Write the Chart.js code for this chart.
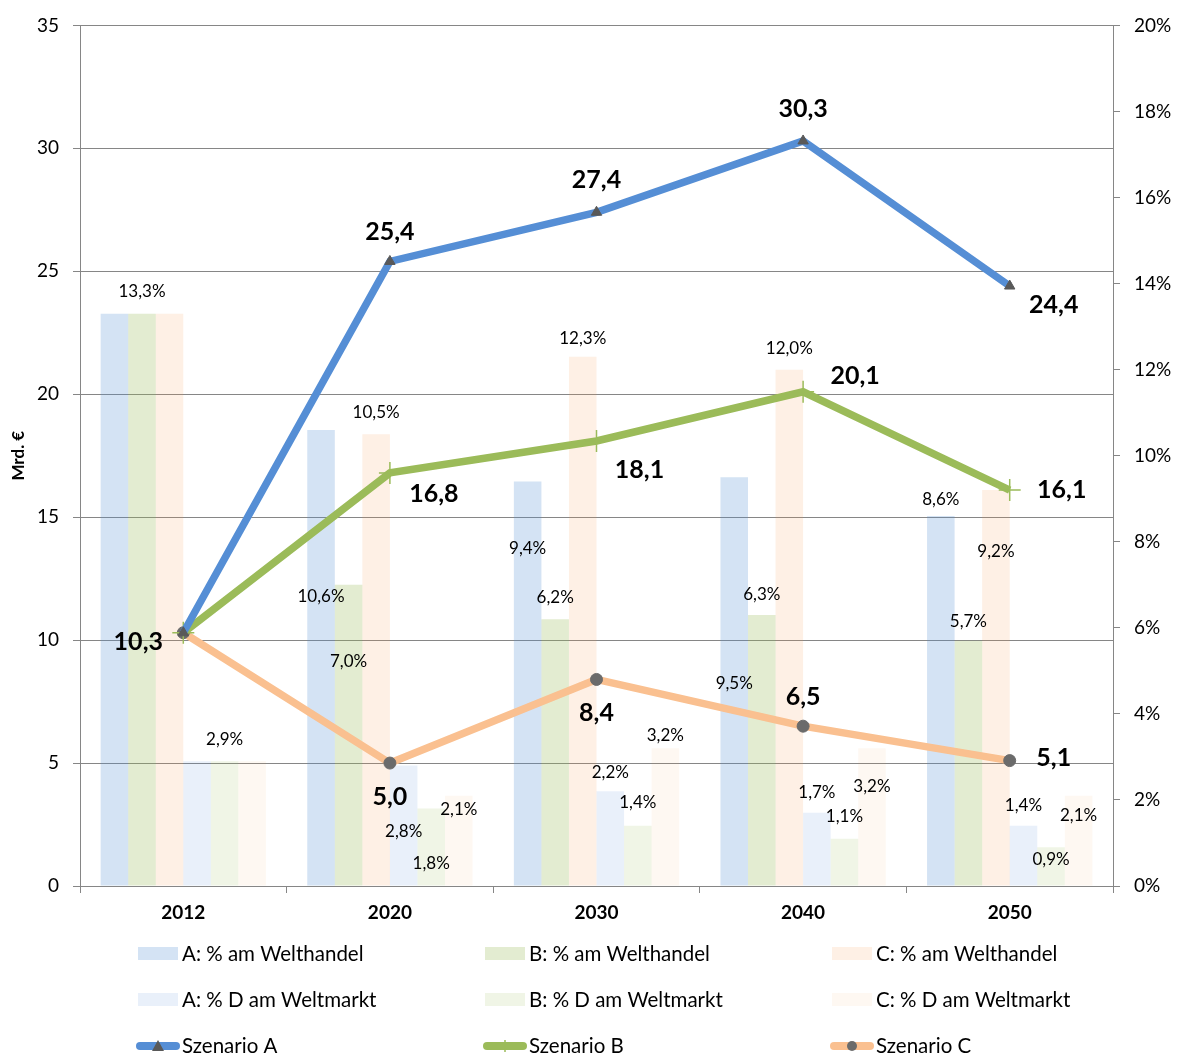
<!DOCTYPE html>
<html lang="de">
<head>
<meta charset="UTF-8">
<title>Szenarien Welthandel</title>
<script src="https://cdn.jsdelivr.net/npm/chart.js"></script>
<style>
  body { margin: 0; background: #fff; }
  #wrap { width: 1185px; height: 1054px; }
</style>
</head>
<body>
<div id="wrap"><canvas id="chart" width="1185" height="1054"></canvas></div>
<script>
// Daten
const years = ['2012', '2020', '2030', '2040', '2050'];

const aWelthandel = [13.3, 10.6, 9.4, 9.5, 8.6];
const bWelthandel = [13.3, 7.0, 6.2, 6.3, 5.7];
const cWelthandel = [13.3, 10.5, 12.3, 12.0, 9.2];
const aWeltmarkt = [2.9, 2.8, 2.2, 1.7, 1.4];
const bWeltmarkt = [2.9, 1.8, 1.4, 1.1, 0.9];
const cWeltmarkt = [2.9, 2.1, 3.2, 3.2, 2.1];

const szenarioA = [10.3, 25.4, 27.4, 30.3, 24.4];
const szenarioB = [10.3, 16.8, 18.1, 20.1, 16.1];
const szenarioC = [10.3, 5.0, 8.4, 6.5, 5.1];

const leftTicks = [0, 5, 10, 15, 20, 25, 30, 35];
const rightTicks = [0, 2, 4, 6, 8, 10, 12, 14, 16, 18, 20];

// Beschriftungen: vertikaler Versatz zur Balkenoberkante (null = ausgeblendet)
const barLabelDy = [
    [null, 167, 67, 206, -16],
    [-22, 77, -22, -20, -19],
    [null, -22, -18, -21, 61],
    [null, 66, -19, -20, -20],
    [-22, 55, -23, -22, 12],
    [null, 14, -13, 38, 20]
];
// Beschriftungen der Linien: [dx, dy] zum Punkt
const lineLabelOffset = [
    [null, [0, -30], [0, -32], [0, -32], [44, 19]],
    [null, [44, 21], [43, 29], [52, -16], [52, 0]],
    [[-45, 9], [0, 34], [0, 33], [0, -29], [44, -3]]
];

const fmt = v => v.toFixed(1).replace('.', ',');
const FONT = 'Lato, "Open Sans", sans-serif';

const bar = (label, data, color) => ({
    type: 'bar', label, data, yAxisID: 'y1', order: 2,
    backgroundColor: color, borderWidth: 0,
    categoryPercentage: 0.8, barPercentage: 1.0
});
const line = (label, data, color, style, markColor, radius) => ({
    type: 'line', label, data, yAxisID: 'y', order: 1,
    borderColor: color, borderWidth: 7.5, tension: 0,
    pointStyle: style, pointRadius: radius,
    pointBackgroundColor: markColor, pointBorderColor: markColor,
    pointBorderWidth: style === 'cross' ? 1.5 : 1
});

const datasets = [
    bar('A: % am Welthandel', aWelthandel, 'rgba(85,142,213,0.25)'),
    bar('B: % am Welthandel', bWelthandel, 'rgba(155,187,89,0.28)'),
    bar('C: % am Welthandel', cWelthandel, 'rgba(247,150,70,0.14)'),
    bar('A: % D am Weltmarkt', aWeltmarkt, 'rgba(85,142,213,0.13)'),
    bar('B: % D am Weltmarkt', bWeltmarkt, 'rgba(155,187,89,0.15)'),
    bar('C: % D am Weltmarkt', cWeltmarkt, 'rgba(247,150,70,0.07)'),
    line('Szenario A', szenarioA, '#558ed5', 'triangle', '#595959', 6),
    line('Szenario B', szenarioB, '#9bbb59', 'cross', '#9bbb59', 11),
    line('Szenario C', szenarioC, '#fac090', 'circle', '#6b6b6b', 6)
];

const labelPlugin = {
    id: 'labels',
    afterDatasetsDraw(chart) {
        const ctx = chart.ctx;
        ctx.save();
        ctx.textAlign = 'center';
        ctx.textBaseline = 'middle';
        ctx.fillStyle = '#000';
        ctx.font = '17px ' + FONT;
        for (let s = 0; s < 6; s++) {
            chart.getDatasetMeta(s).data.forEach((el, i) => {
                const dy = barLabelDy[s][i];
                if (dy === null) return;
                ctx.fillText(fmt(chart.data.datasets[s].data[i]) + '%', el.x, el.y + dy);
            });
        }
        ctx.font = 'bold 25px ' + FONT;
        for (let s = 0; s < 3; s++) {
            chart.getDatasetMeta(6 + s).data.forEach((el, i) => {
                const off = lineLabelOffset[s][i];
                if (!off) return;
                ctx.fillText(fmt(chart.data.datasets[6 + s].data[i]), el.x + off[0], el.y + off[1]);
            });
        }
        ctx.restore();
    }
};

const legendPlugin = {
    id: 'gridLegend',
    afterDraw(chart) {
        const ctx = chart.ctx;
        const cols = [138, 485, 832];
        const rows = [954, 1000, 1046];
        ctx.save();
        ctx.font = '20.5px ' + FONT;
        ctx.textBaseline = 'middle';
        ctx.textAlign = 'left';
        chart.data.datasets.forEach((ds, k) => {
            const x = cols[k % 3];
            const y = rows[Math.floor(k / 3)];
            if (ds.type === 'bar') {
                ctx.fillStyle = ds.backgroundColor;
                ctx.fillRect(x, y - 7, 40, 13);
            } else {
                ctx.strokeStyle = ds.borderColor;
                ctx.lineWidth = 8;
                ctx.lineCap = 'round';
                ctx.beginPath();
                ctx.moveTo(x + 2, y);
                ctx.lineTo(x + 38, y);
                ctx.stroke();
                ctx.lineCap = 'butt';
                ctx.fillStyle = ds.pointBackgroundColor;
                ctx.strokeStyle = ds.pointBorderColor;
                ctx.lineWidth = ds.pointBorderWidth;
                ctx.beginPath();
                if (ds.pointStyle === 'triangle') {
                    ctx.moveTo(x + 20, y - 6); ctx.lineTo(x + 26, y + 5); ctx.lineTo(x + 14, y + 5);
                    ctx.closePath(); ctx.fill();
                } else if (ds.pointStyle === 'circle') {
                    ctx.arc(x + 20, y, 5, 0, Math.PI * 2); ctx.fill();
                } else {
                    ctx.moveTo(x + 20, y - 6); ctx.lineTo(x + 20, y + 6); ctx.stroke();
                }
            }
            ctx.fillStyle = '#000';
            ctx.fillText(ds.label, x + 44, y);
        });
        ctx.restore();
    }
};

new Chart(document.getElementById('chart'), {
    data: { labels: years, datasets },
    options: {
        responsive: false,
        animation: false,
        layout: { padding: { top: 14, left: 0, right: 0, bottom: 0 } },
        plugins: {
            legend: { display: false },
            tooltip: { enabled: false }
        },
        scales: {
            x: {
                offset: true,
                grid: { offset: true, drawOnChartArea: false, drawTicks: true, tickLength: 7, color: '#868686' },
                border: { color: '#868686' },
                ticks: { color: '#000', font: { family: FONT, size: 19, weight: 'bold' }, padding: 8 },
                afterFit: s => { s.height = 168; }
            },
            y: {
                position: 'left',
                min: 0, max: 35,
                afterBuildTicks: s => { s.ticks = leftTicks.map(v => ({ value: v })); },
                grid: { color: '#868686', tickLength: 7 },
                border: { color: '#868686' },
                ticks: { color: '#000', font: { family: FONT, size: 19 }, padding: 14 },
                title: { display: true, text: 'Mrd. €', color: '#000', font: { family: FONT, size: 17, weight: 'bold' }, padding: { top: 8, bottom: 0 } },
                afterFit: s => { s.width = 80; }
            },
            y1: {
                position: 'right',
                min: 0, max: 20,
                afterBuildTicks: s => { s.ticks = rightTicks.map(v => ({ value: v })); },
                grid: { drawOnChartArea: false, color: '#868686', tickLength: 7 },
                border: { color: '#868686' },
                ticks: { color: '#000', font: { family: FONT, size: 19 }, padding: 14, callback: v => v + '%' },
                afterFit: s => { s.width = 72; }
            }
        }
    },
    plugins: [labelPlugin, legendPlugin]
});
</script>
</body>
</html>
